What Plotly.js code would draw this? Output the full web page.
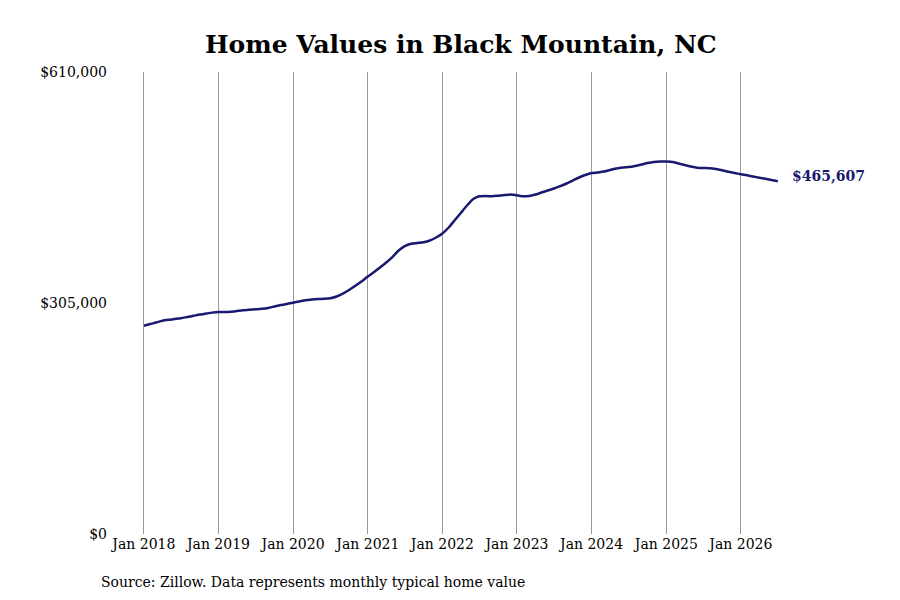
<!DOCTYPE html>
<html>
<head>
<meta charset="utf-8">
<script src="https://cdn.plot.ly/plotly-3.0.1.min.js"></script>
<style>
  html, body { margin: 0; padding: 0; background: #ffffff; }
  #chart { width: 900px; height: 600px; }
</style>
</head>
<body>
<div id="chart"></div>
<script>
// Monthly typical home value, Jan 2018 - Jul 2026
var startMonth = '2018-01-01';
var homeValues = [
  275000, 277300, 279200, 281600, 282900, 283900, 284900, 286500, 288100, 289700, 291000, 292300,
  293100, 293100, 293400, 294400, 295400, 296100, 296700, 297300, 298500, 300400, 302300, 303700,
  305400, 307000, 308600, 309700, 310300, 310500, 311200, 313600, 317500, 322200, 327700, 333400,
  340000, 345900, 351900, 358500, 365700, 374300, 380200, 383200, 384200, 385100, 387500, 391500,
  396800, 404700, 413900, 423800, 433700, 442300, 445900, 446300, 445900, 446700, 447600, 448100,
  447200, 445900, 446300, 448200, 450900, 453500, 456200, 459200, 462800, 466700, 470700, 474000,
  476600, 477300, 478600, 480600, 482600, 483900, 484500, 485900, 487800, 489800, 491200, 491800,
  491800, 491200, 489200, 487200, 485200, 483600, 483200, 483000, 481900, 480200, 478200, 476600,
  475100, 473600, 472000, 470400, 469000, 467400, 465607
];
var yTickVals = [0, 305000, 610000];
var yTickText = ['$0', '$305,000', '$610,000'];
var titleText = 'Home Values in Black Mountain, NC';
var sourceText = 'Source: Zillow. Data represents monthly typical home value';

// build month dates
var dates = [];
var d0 = new Date(startMonth + 'T00:00:00Z');
for (var i = 0; i < homeValues.length; i++) {
  var d = new Date(Date.UTC(d0.getUTCFullYear(), d0.getUTCMonth() + i, 1));
  dates.push(d.toISOString().slice(0, 10));
}

var lastIdx = homeValues.length - 1;
var navy = '#191970';
var serif = 'DejaVu Serif, serif';

var trace = {
  x: dates,
  y: homeValues,
  type: 'scatter',
  mode: 'lines',
  line: { color: navy, width: 2.5, shape: 'spline', smoothing: 0.6 },
  hoverinfo: 'x+y'
};

var layout = {
  width: 900,
  height: 600,
  paper_bgcolor: '#ffffff',
  plot_bgcolor: '#ffffff',
  showlegend: false,
  font: { family: serif, color: '#000000', size: 14 },
  title: {
    text: '<b>' + titleText + '</b>',
    font: { family: serif, size: 25, color: '#000000' },
    x: 0.512,
    xanchor: 'center',
    y: 0.927,
    yanchor: 'middle'
  },
  margin: { l: 120, r: 88, t: 72, b: 66 },
  xaxis: {
    type: 'date',
    range: ['2017-09-06', '2026-12-15'],
    tick0: startMonth,
    dtick: 'M12',
    tickformat: '%b %Y',
    showgrid: true,
    gridcolor: '#999999',
    gridwidth: 1,
    zeroline: false,
    showline: false,
    ticks: '',
    tickfont: { family: serif, size: 14, color: '#000000' }
  },
  yaxis: {
    range: [0, 610000],
    tickvals: yTickVals,
    ticktext: yTickText,
    showgrid: false,
    zeroline: false,
    showline: false,
    ticks: '',
    ticklabelstandoff: 12,
    tickfont: { family: serif, size: 14, color: '#000000' }
  },
  annotations: [
    {
      x: dates[lastIdx],
      y: homeValues[lastIdx],
      xref: 'x',
      yref: 'y',
      text: '<b>$' + homeValues[lastIdx].toLocaleString('en-US') + '</b>',
      showarrow: false,
      xanchor: 'left',
      yanchor: 'middle',
      xshift: 12,
      yshift: 5,
      font: { family: serif, size: 14, color: navy }
    },
    {
      x: 0,
      y: 0,
      xref: 'paper',
      yref: 'paper',
      text: sourceText,
      showarrow: false,
      xanchor: 'left',
      yanchor: 'middle',
      xshift: -21,
      yshift: -48,
      font: { family: serif, size: 14, color: '#000000' }
    }
  ]
};

Plotly.newPlot('chart', [trace], layout, { displayModeBar: false, staticPlot: true });
</script>
</body>
</html>
